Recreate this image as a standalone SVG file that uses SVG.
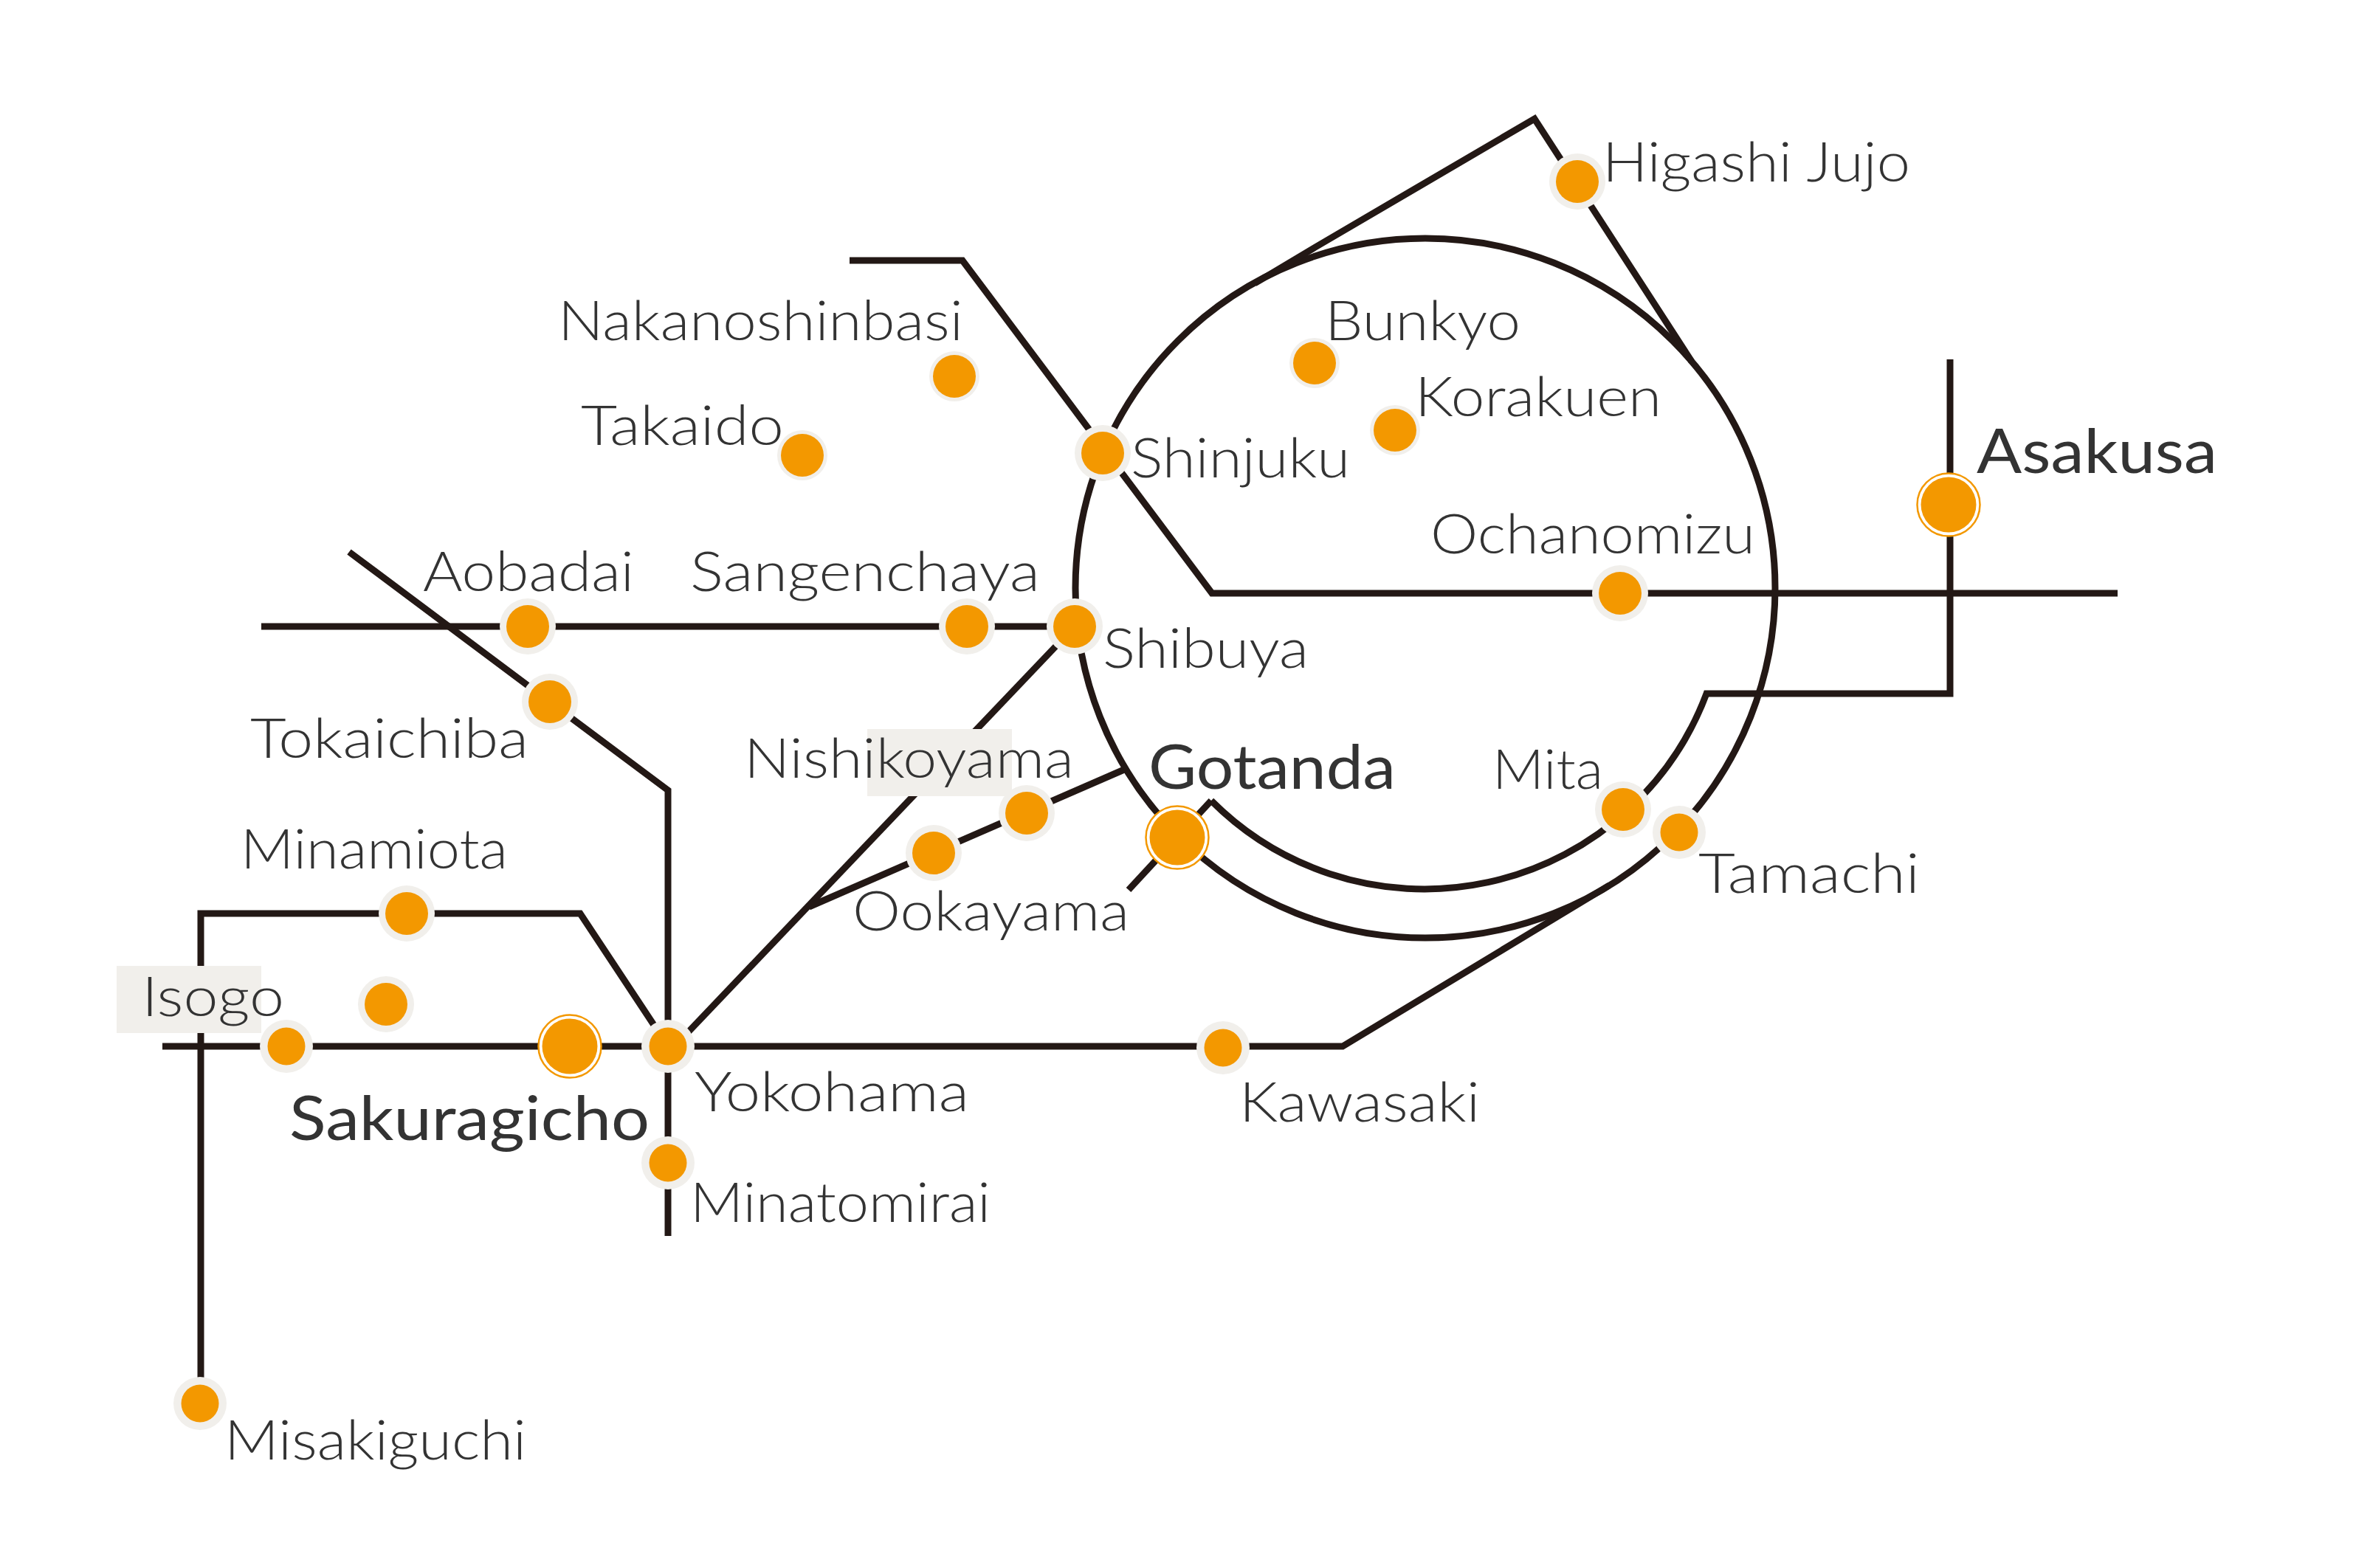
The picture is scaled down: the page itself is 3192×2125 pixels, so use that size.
<svg xmlns="http://www.w3.org/2000/svg" width="3192" height="2125" viewBox="0 0 3192 2125">
<style>
.l{fill:none;stroke:#231815;stroke-width:9;stroke-linejoin:miter}
.h{fill:#f1efeb}
.o{fill:#f39800}
.w{fill:#fff}
.r{fill:none;stroke:#f39800;stroke-width:2.5}
text{font-family:"Lato","Liberation Sans",sans-serif;font-weight:300;font-size:75px;fill:#333}
text.b{font-weight:400;font-size:84px}
</style>
<rect width="3192" height="2125" fill="#fff"/>
<g id="connectors">
<path class="l" d="M1151 353H1304L1642 804H2869"/>
<path class="l" d="M1641 1085A408 408 0 0 0 2312 940H2642V487"/>
<circle class="l" cx="1931" cy="797" r="474"/>
<path class="l" d="M1700 384L1782 335L2079 161L2292 490"/>
<path class="l" d="M354 849H1456"/>
<path class="l" d="M473 748L905 1071V1675"/>
<path class="l" d="M272 1909V1238H786L905 1418"/>
<path class="l" d="M220 1418H1819L2180 1200"/>
<path class="l" d="M914 1418L1456 849"/>
<path class="l" d="M1096 1229L1523 1043"/>
<path class="l" d="M1529 1206L1641 1085"/>
</g>
<g id="label-boxes">
<rect class="h" x="158" y="1309" width="196" height="91"/>
<rect class="h" x="1175" y="988" width="196" height="91"/>
</g>
<g id="higashi-jujo"><circle class="h" cx="2137" cy="246" r="38"/><circle class="o" cx="2137" cy="246" r="29"/><text x="2171" y="246" textLength="417" lengthAdjust="spacingAndGlyphs">Higashi Jujo</text></g>
<g id="bunkyo"><circle class="h" cx="1781" cy="492" r="34"/><circle class="o" cx="1781" cy="492" r="29"/><text x="1795" y="461" textLength="265" lengthAdjust="spacingAndGlyphs">Bunkyo</text></g>
<g id="korakuen"><circle class="h" cx="1890" cy="583" r="34"/><circle class="o" cx="1890" cy="583" r="29"/><text x="1917" y="564" textLength="334" lengthAdjust="spacingAndGlyphs">Korakuen</text></g>
<g id="nakanoshinbasi"><circle class="h" cx="1293" cy="510" r="34"/><circle class="o" cx="1293" cy="510" r="29"/><text x="756" y="461" textLength="549" lengthAdjust="spacingAndGlyphs">Nakanoshinbasi</text></g>
<g id="takaido"><circle class="h" cx="1087" cy="617" r="34"/><circle class="o" cx="1087" cy="617" r="29"/><text x="787" y="603" textLength="275" lengthAdjust="spacingAndGlyphs">Takaido</text></g>
<g id="shinjuku"><circle class="h" cx="1494" cy="614" r="38"/><circle class="o" cx="1494" cy="614" r="29"/><text x="1532" y="647" textLength="297" lengthAdjust="spacingAndGlyphs">Shinjuku</text></g>
<g id="ochanomizu"><circle class="h" cx="2195" cy="804" r="38"/><circle class="o" cx="2195" cy="804" r="29"/><text x="1938" y="750" textLength="440" lengthAdjust="spacingAndGlyphs">Ochanomizu</text></g>
<g id="asakusa"><circle class="w" cx="2640" cy="684" r="42.5"/><circle class="r" cx="2640" cy="684" r="42.5"/><circle class="o" cx="2640" cy="684" r="37.5"/><text class="b" x="2678" y="641" textLength="326" lengthAdjust="spacingAndGlyphs">Asakusa</text></g>
<g id="aobadai"><circle class="h" cx="715" cy="849" r="38"/><circle class="o" cx="715" cy="849" r="29"/><text x="573" y="801" textLength="286" lengthAdjust="spacingAndGlyphs">Aobadai</text></g>
<g id="sangenchaya"><circle class="h" cx="1310" cy="849" r="38"/><circle class="o" cx="1310" cy="849" r="29"/><text x="935" y="801" textLength="474" lengthAdjust="spacingAndGlyphs">Sangenchaya</text></g>
<g id="shibuya"><circle class="h" cx="1456" cy="849" r="38"/><circle class="o" cx="1456" cy="849" r="29"/><text x="1494" y="905" textLength="279" lengthAdjust="spacingAndGlyphs">Shibuya</text></g>
<g id="tokaichiba"><circle class="h" cx="745" cy="951" r="38"/><circle class="o" cx="745" cy="951" r="29"/><text x="339" y="1027" textLength="377" lengthAdjust="spacingAndGlyphs">Tokaichiba</text></g>
<g id="nishikoyama"><circle class="h" cx="1391" cy="1102" r="38"/><circle class="o" cx="1391" cy="1102" r="29"/><text x="1008" y="1054" textLength="447" lengthAdjust="spacingAndGlyphs">Nishikoyama</text></g>
<g id="ookayama"><circle class="h" cx="1265" cy="1156" r="38"/><circle class="o" cx="1265" cy="1156" r="29"/><text x="1155" y="1261" textLength="375" lengthAdjust="spacingAndGlyphs">Ookayama</text></g>
<g id="gotanda"><circle class="w" cx="1595" cy="1135" r="42.5"/><circle class="r" cx="1595" cy="1135" r="42.5"/><circle class="o" cx="1595" cy="1135" r="37.5"/><text class="b" x="1556" y="1069" textLength="335" lengthAdjust="spacingAndGlyphs">Gotanda</text></g>
<g id="mita"><circle class="h" cx="2199" cy="1097" r="38"/><circle class="o" cx="2199" cy="1097" r="29"/><text x="2022" y="1069" textLength="150" lengthAdjust="spacingAndGlyphs">Mita</text></g>
<g id="tamachi"><circle class="h" cx="2275" cy="1128" r="36"/><circle class="o" cx="2275" cy="1128" r="25.5"/><text x="2301" y="1210" textLength="300" lengthAdjust="spacingAndGlyphs">Tamachi</text></g>
<g id="minamiota"><circle class="h" cx="551" cy="1238" r="38"/><circle class="o" cx="551" cy="1238" r="29"/><text x="326" y="1177" textLength="362" lengthAdjust="spacingAndGlyphs">Minamiota</text></g>
<g id="unnamed-stop"><circle class="h" cx="523" cy="1361" r="38"/><circle class="o" cx="523" cy="1361" r="29"/></g>
<g id="isogo"><circle class="h" cx="388" cy="1418" r="36"/><circle class="o" cx="388" cy="1418" r="25.5"/><text x="192" y="1377" textLength="193" lengthAdjust="spacingAndGlyphs">Isogo</text></g>
<g id="sakuragicho"><circle class="w" cx="772" cy="1418" r="42.5"/><circle class="r" cx="772" cy="1418" r="42.5"/><circle class="o" cx="772" cy="1418" r="37.5"/><text class="b" x="392" y="1545" textLength="488" lengthAdjust="spacingAndGlyphs">Sakuragicho</text></g>
<g id="yokohama"><circle class="h" cx="905" cy="1418" r="36"/><circle class="o" cx="905" cy="1418" r="25.5"/><text x="941" y="1506" textLength="372" lengthAdjust="spacingAndGlyphs">Yokohama</text></g>
<g id="minatomirai"><circle class="h" cx="905" cy="1576" r="36"/><circle class="o" cx="905" cy="1576" r="25.5"/><text x="935" y="1656" textLength="407" lengthAdjust="spacingAndGlyphs">Minatomirai</text></g>
<g id="kawasaki"><circle class="h" cx="1657" cy="1420" r="36"/><circle class="o" cx="1657" cy="1420" r="25.5"/><text x="1679" y="1520" textLength="326" lengthAdjust="spacingAndGlyphs">Kawasaki</text></g>
<g id="misakiguchi"><circle class="h" cx="271" cy="1902" r="36"/><circle class="o" cx="271" cy="1902" r="25.5"/><text x="304" y="1978" textLength="409" lengthAdjust="spacingAndGlyphs">Misakiguchi</text></g>
</svg>
